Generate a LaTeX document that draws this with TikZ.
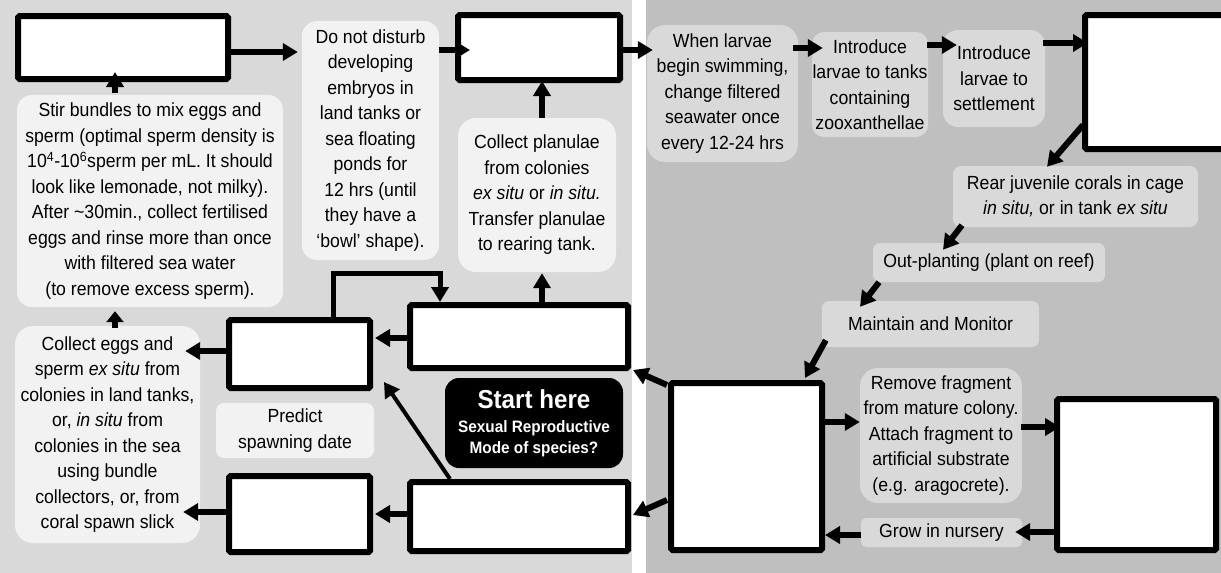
\documentclass[tikz,border=0pt]{standalone}
\usepackage{fontspec}
\setmainfont{Liberation Sans}[FakeStretch=0.93]
\usetikzlibrary{arrows.meta,calc}
\definecolor{panL}{HTML}{D9D9D9}
\definecolor{panR}{HTML}{BFBFBF}
\definecolor{boxL}{HTML}{F2F2F2}
\definecolor{boxR}{HTML}{D9D9D9}
\newcommand\txtsz{\fontsize{19}{25.5}\selectfont}
\begin{document}
\begin{tikzpicture}[x=1pt,y=-1pt,
 bbox/.style={draw=black, line width=6pt, fill=white, rounded corners=1.5pt, inner sep=0pt},
 tbox/.style={inner sep=0pt, align=center, font=\txtsz, text=black},
 lb/.style={tbox, fill=boxL},
 rb/.style={tbox, fill=boxR},
 arr/.style={line width=6pt, -{Triangle[length=15pt,width=17pt]}},
 ]
\useasboundingbox (0,0) rectangle (1221,573);
\fill[white] (0,0) rectangle (1221,573);
\fill[panL] (0,0) rectangle (632,573);
\fill[panR] (646,0) rectangle (1221,573);

% text boxes
\node[lb, rounded corners=15pt, minimum width=266pt, minimum height=212pt] (Stir) at (150,201)
 {Stir bundles to mix eggs and\\ sperm (optimal sperm density is\\ 10\textsuperscript{4}-10\textsuperscript{6}sperm per mL. It should\\ look like lemonade, not milky).\\ After \textasciitilde30min., collect fertilised\\ eggs and rinse more than once\\ with filtered sea water\\ (to remove excess sperm).};
\node[lb, rounded corners=15pt, minimum width=137pt, minimum height=239pt] (Dnd) at (370.5,140.5)
 {Do not disturb\\ developing\\ embryos in\\ land tanks or\\ sea floating\\ ponds for\\ 12 hrs (until\\ they have a\\ ‘bowl’ shape).};
\node[lb, rounded corners=18pt, minimum width=158pt, minimum height=154pt] (Plan) at (537,195)
 {Collect planulae\\ from colonies\\ \textit{ex situ} or \textit{in situ.}\\ Transfer planulae\\ to rearing tank.};
\node[rb, rounded corners=18pt, minimum width=151pt, minimum height=137pt] (When) at (722.5,93.5)
 {When larvae\\ begin swimming,\\ change filtered\\ seawater once\\ every 12-24 hrs};
\node[rb, rounded corners=12pt, minimum width=116pt, minimum height=105pt] (IntA) at (870,84.5)
 {Introduce\\ larvae to tanks\\ containing\\ zooxanthellae};
\node[rb, rounded corners=15pt, minimum width=102pt, minimum height=97pt] (IntB) at (994,78.5)
 {Introduce\\ larvae to\\ settlement};
\node[rb, rounded corners=8pt, minimum width=245pt, minimum height=61pt] (Rear) at (1075.5,196.5)
 {Rear juvenile corals in cage\\ \textit{in situ,} or in tank \textit{ex situ}};
\node[rb, rounded corners=7pt, minimum width=232pt, minimum height=39pt] (Out) at (989,262.5)
 {Out-planting (plant on reef)};
\node[rb, rounded corners=7pt, minimum width=217pt, minimum height=46pt] (Maint) at (930.5,324)
 {Maintain and Monitor};
\node[rb, rounded corners=18pt, minimum width=162pt, minimum height=135pt] (Rem) at (941,435.5)
 {Remove fragment\\ from mature colony.\\ Attach fragment to\\ artificial substrate\\ (e.g. aragocrete).};
\node[rb, rounded corners=5pt, minimum width=161pt, minimum height=29pt] (Grow) at (941.5,532.5)
 {Grow in nursery};
\node[lb, rounded corners=18pt, minimum width=185pt, minimum height=217pt] (CE) at (107.5,434.5)
 {Collect eggs and\\ sperm \textit{ex situ} from\\ colonies in land tanks,\\ or, \textit{in situ} from\\ colonies in the sea\\ using bundle\\ collectors, or, from\\ coral spawn slick};
\node[lb, rounded corners=8pt, minimum width=158pt, minimum height=55pt] (Pred) at (295,430.5)
 {Predict\\ spawning date};
\node[tbox, fill=black, text=white, rounded corners=14pt, minimum width=178pt, minimum height=90pt,
 font=\bfseries\fontsize{16.5}{21}\selectfont] (Start) at (534,423)
 {{\fontsize{26}{30}\selectfont Start here}\\[3pt] Sexual Reproductive\\ Mode of species?};

% black boxes
\node[bbox, minimum width=210pt, minimum height=63pt] (B1) at (123,47.5) {};
\node[bbox, minimum width=162pt, minimum height=65pt] (B2) at (539,47.5) {};
\node[bbox, minimum width=144pt, minimum height=134pt] (B3) at (1157,82) {};
\node[bbox, minimum width=151pt, minimum height=167pt] (B4) at (746.5,466.5) {};
\node[bbox, minimum width=159pt, minimum height=151pt] (B5) at (1136.5,474.5) {};
\node[bbox, minimum width=218pt, minimum height=63pt] (B6) at (519,336.5) {};
\node[bbox, minimum width=218pt, minimum height=69pt] (B7) at (519,516.5) {};
\node[bbox, minimum width=141pt, minimum height=68pt] (B8) at (299.5,354) {};
\node[bbox, minimum width=141pt, minimum height=76pt] (B9) at (299.5,514) {};

% connector points
\coordinate (c1) at ($(B1.east)+(0,4.5)$);
\coordinate (c2) at ($(Stir.north)+(-35,0)$);
\coordinate (c3) at ($(B2.west)+(0,2.5)$);
\coordinate (c4) at ($(Plan.north)+(5,0)$);
\coordinate (c5) at ($(B2.east)+(0,2.5)$);
\coordinate (c6) at ($(When.east)+(0,-45.5)$);
\coordinate (c7) at ($(IntA.east)+(0,-39.5)$);
\coordinate (c8) at ($(IntB.east)+(0,-35.5)$);
\coordinate (c9a) at ($(B3.west)+(1,43)$);
\coordinate (c9b) at ($(Rear.north)+(-28.5,1)$);
\coordinate (c10a) at ($(Rear.south)+(-113.5,-2)$);
\coordinate (c10b) at ($(Out.north)+(-46,7)$);
\coordinate (c11a) at ($(Out.south)+(-110,0)$);
\coordinate (c11b) at ($(Maint.north)+(-70.5,6)$);
\coordinate (c12a) at ($(Maint.south west)+(4,-7)$);
\coordinate (c12b) at ($(B4.north east)+(-20,-2)$);
\coordinate (c13) at ($(B4.east)+(0,-44.5)$);
\coordinate (c14) at ($(Rem.east)+(-1,-8.5)$);
\coordinate (c15) at ($(B5.west)+(0,57.5)$);
\coordinate (c16) at ($(Grow.west)+(0,2.5)$);
\coordinate (c17a) at ($(B4.north west)+(-1,5)$);
\coordinate (c17b) at ($(B6.south east)+(2,-1)$);
\coordinate (c18a) at ($(B4.west)+(-1,33.5)$);
\coordinate (c18b) at ($(B7.east)+(2,-1.5)$);
\coordinate (c19) at ($(B6.west)+(0,1.5)$);
\coordinate (c20) at ($(B7.west)+(0,-2.5)$);
\coordinate (c21a) at ($(B7.north west)+(43,0)$);
\coordinate (c21b) at ($(B8.south east)+(11,-9)$);
\coordinate (c22) at ($(B8.west)+(0,-3)$);
\coordinate (c23) at ($(B9.west)+(0,-2)$);
\coordinate (c24) at ($(CE.north)+(7.5,0)$);
\coordinate (c25a) at ($(B8.north)+(33.5,0)$);
\coordinate (c25b) at ($(B6.north west)+(33,0)$);
\coordinate (c25m) at ($(c25b)+(0,-29)$);
\coordinate (c26) at ($(B6.north)+(23,0)$);

% arrows
\draw[arr, shorten >=4pt] (c1) -- (c1 -| Dnd.west);
\draw[arr, shorten <=2pt, shorten >=-10pt] (c2) -- (c2 |- B1.south);
\draw[arr, shorten >=-15pt] (c3 -| Dnd.east) -- (c3);
\draw[arr, shorten >=-2pt] (c4) -- (c4 |- B2.south);
\draw[arr, shorten >=-6pt] (c5) -- (c5 -| When.west);
\draw[arr, shorten <=-5pt, shorten >=-11pt] (c6) -- (c6 -| IntA.west);
\draw[arr, shorten <=-1pt, shorten >=-14pt] (c7) -- (c7 -| IntB.west);
\draw[arr, shorten <=-2pt, shorten >=-6pt] (c8) -- (c8 -| B3.west);
\draw[arr] (c9a) -- (c9b);
\draw[arr] (c10a) -- (c10b);
\draw[arr] (c11a) -- (c11b);
\draw[arr] (c12a) -- (c12b);
\draw[arr] (c13) -- (c13 -| Rem.west);
\draw[arr, shorten >=-6pt] (c14) -- (c14 -| B5.west);
\draw[arr, shorten >=-7pt] (c15) -- (c15 -| Grow.east);
\draw[arr] (c16) -- (c16 -| B4.east);
\draw[arr] (c17a) -- (c17b);
\draw[arr] (c18a) -- (c18b);
\draw[arr, shorten >=2pt] (c19) -- (c19 -| B8.east);
\draw[arr, shorten >=2pt] (c20) -- (c20 -| B9.east);
\draw[arr, line width=4pt] (c21a) -- (c21b);
\draw[arr, shorten >=-15pt] (c22) -- (c22 -| CE.east);
\draw[arr, shorten >=-17pt] (c23) -- (c23 -| CE.east);
\draw[line width=6pt, -{Triangle[length=11pt,width=17pt]}, shorten <=-2pt, shorten >=4pt] (c24) -- (c24 |- Stir.south);
\draw[arr, line width=5pt] (c25a) |- (c25m) -- (c25b);
\draw[arr, shorten >=1pt] (c26) -- (c26 |- Plan.south);
\end{tikzpicture}
\end{document}
